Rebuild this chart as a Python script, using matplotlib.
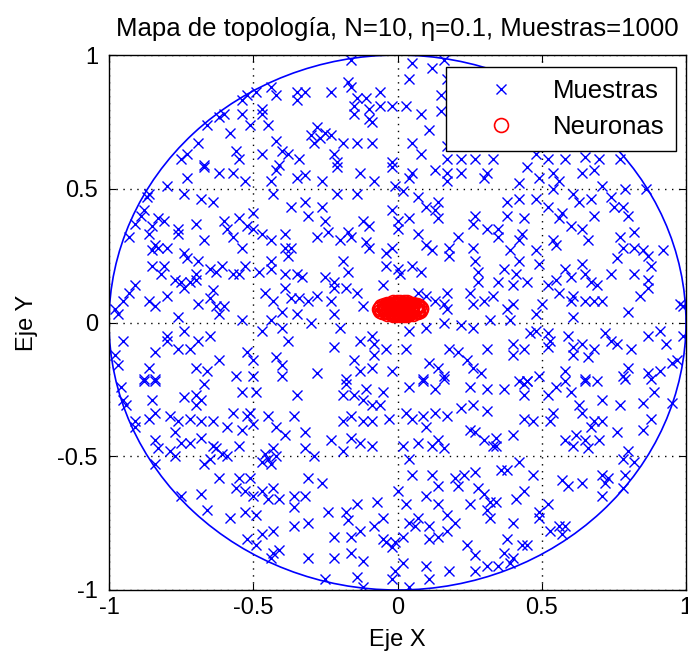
import matplotlib
matplotlib.use("Agg")
import matplotlib.pyplot as plt
from matplotlib.patches import Circle

plt.rcParams['font.family'] = ['Liberation Sans', 'DejaVu Sans']

# muestras (x, y), por zonas
muestras_x = [
    # zona -1..-0.33, 0.59..-0.21
    -0.67, -0.62, -0.57, -0.53, -0.73, -0.42, -0.44, -0.35, -0.80, -0.86,
    -0.87, -0.74, -0.68, -0.64, -0.43, -0.37, -0.88, -0.89, -0.83, -0.81,
    -0.55, -0.50, -0.60, -0.85, -0.76, -0.70, -0.91, -0.59, -0.52, -0.50,
    -0.47, -0.86, -0.93, -0.76, -0.57, -0.67, -0.39, -0.44, -0.84, -0.80,
    -0.83, -0.85, -0.54, -0.39, -0.37, -0.74, -0.73, -0.69, -0.38, -0.44,
    -0.85, -0.81, -0.61, -0.65, -0.63, -0.53, -0.48, -0.44, -0.55, -0.57,
    -0.39, -0.35, -0.82, -0.77, -0.75, -0.72, -0.70, -0.70, -0.74, -0.91,
    -0.93, -0.95, -0.64, -0.39, -0.46, -0.43, -0.37, -0.34, -0.86, -0.84,
    -0.80, -0.98, -0.97, -0.69, -0.65, -0.63, -0.60, -0.62, -0.40, -0.35,
    -0.76, -0.54, -0.44, -0.47, -0.40, -0.74, -0.80, -0.80, -0.76, -0.69,
    -0.65, -0.72, -0.95, -0.98, -0.84, -0.97, -0.86, -0.70, -0.66, -0.62,
    -0.52, -0.50, -0.50, -0.56, -0.42, -0.40, -0.38, -0.40, -0.88, -0.84,
    # zona -0.33..0.34, 0.59..-0.21
    -0.32, -0.26, -0.21, -0.13, -0.08, -0.02, 0.05, 0.04, 0.13, 0.17,
    0.17, 0.22, 0.30, 0.31, -0.01, 0.02, -0.21, -0.14, -0.32, -0.26,
    0.07, 0.10, 0.14, 0.13, -0.02, 0.00, 0.04, 0.14, 0.27, 0.26,
    0.31, -0.31, -0.25, -0.24, -0.28, -0.12, -0.10, -0.17, -0.20, -0.16,
    -0.11, -0.10, 0.00, 0.07, 0.10, 0.12, 0.21, 0.18, 0.18, 0.26,
    0.27, -0.02, -0.04, -0.19, -0.04, 0.00, 0.01, 0.05, 0.08, -0.17,
    -0.25, 0.28, 0.28, -0.33, -0.22, -0.05, -0.28, -0.22, -0.18, -0.14,
    -0.31, -0.23, -0.12, -0.22, 0.07, 0.10, 0.17, 0.16, 0.17, 0.13,
    0.25, 0.26, 0.30, 0.33, -0.30, -0.20, 0.04, 0.10, 0.16, 0.22,
    0.26, 0.32, -0.13, -0.09, -0.08, -0.22, -0.04, 0.03, -0.08, -0.15,
    -0.13, -0.09, -0.02, -0.28, -0.18, 0.11, 0.14, 0.16, 0.18, 0.21,
    0.24, 0.26, 0.29, 0.31, 0.09,
    # zona 0.34..1, 0.59..-0.21
    0.45, 0.49, 0.54, 0.56, 0.54, 0.42, 0.64, 0.68, 0.71, 0.79,
    0.86, 0.38, 0.42, 0.44, 0.48, 0.52, 0.61, 0.63, 0.67, 0.57,
    0.56, 0.68, 0.74, 0.75, 0.78, 0.80, 0.60, 0.64, 0.66, 0.82,
    0.38, 0.35, 0.35, 0.43, 0.42, 0.54, 0.55, 0.48, 0.77, 0.78,
    0.82, 0.85, 0.87, 0.92, 0.39, 0.42, 0.49, 0.64, 0.76, 0.74,
    0.88, 0.37, 0.41, 0.58, 0.60, 0.65, 0.55, 0.52, 0.45, 0.35,
    0.40, 0.67, 0.69, 0.82, 0.87, 0.87, 0.56, 0.61, 0.65, 0.68,
    0.71, 0.60, 0.50, 0.84, 0.40, 0.38, 0.39, 0.48, 0.61, 0.80,
    0.98, 0.99, 0.46, 0.48, 0.52, 0.53, 0.52, 0.40, 0.40, 0.44,
    0.59, 0.61, 0.61, 0.64, 0.66, 0.68, 0.72, 0.74, 0.76, 0.81,
    0.87, 0.91, 0.93, 0.99, 0.97, 0.95, 0.91, 0.87, 0.78, 0.80,
    0.58, 0.49, 0.65, 0.42, 0.45,
    # zona -1..-0.33, -0.21..-1
    -0.96, -0.88, -0.84, -0.67, -0.54, -0.49, -0.35, -0.95, -0.94, -0.85,
    -0.74, -0.70, -0.68, -0.70, -0.91, -0.91, -0.86, -0.84, -0.79, -0.76,
    -0.72, -0.68, -0.64, -0.57, -0.52, -0.51, -0.50, -0.59, -0.54, -0.45,
    -0.42, -0.39, -0.36, -0.77, -0.84, -0.83, -0.79, -0.77, -0.75, -0.72,
    -0.68, -0.63, -0.61, -0.59, -0.64, -0.55, -0.45, -0.46, -0.43, -0.42,
    -0.44, -0.47, -0.67, -0.65, -0.84, -0.62, -0.55, -0.51, -0.56, -0.53,
    -0.50, -0.47, -0.45, -0.43, -0.41, -0.36, -0.36, -0.75, -0.68, -0.66,
    -0.58, -0.53, -0.49, -0.36, -0.47, -0.43, -0.52, -0.49, -0.41, -0.43,
    -0.44,
    # zona -0.33..0.34, -0.21..-1
    -0.18, -0.11, -0.05, 0.04, 0.09, 0.16, 0.13, 0.25, 0.31, -0.19,
    -0.15, -0.12, -0.09, -0.06, 0.22, 0.26, 0.31, -0.19, -0.16, -0.12,
    -0.09, -0.03, 0.03, 0.05, 0.09, 0.13, 0.17, 0.10, 0.25, 0.27,
    0.30, 0.33, -0.23, -0.16, -0.13, -0.09, -0.19, -0.32, -0.32, -0.29,
    0.02, 0.07, 0.12, 0.14, 0.16, 0.04, -0.31, -0.26, 0.05, 0.12,
    0.14, 0.20, 0.23, 0.21, 0.27, 0.28, 0.30, 0.32, 0.00, 0.10,
    0.03, 0.14, 0.25, 0.31, 0.32, -0.32, -0.31, -0.14, -0.07, -0.24,
    -0.18, -0.17, -0.05, 0.07, 0.06, 0.04, 0.11, 0.17, 0.20, 0.17,
    0.11, 0.14, -0.22, -0.16, -0.13, -0.08, -0.05, -0.04, -0.01, 0.02,
    -0.02, -0.16, -0.12, -0.22, -0.31, 0.02, -0.01, -0.02, -0.14, -0.25,
    0.10, 0.11, 0.18, 0.27, 0.31, 0.27, 0.24, -0.12, 0.04,
    # zona 0.34..1, -0.21..-1
    0.37, 0.44, 0.44, 0.45, 0.55, 0.52, 0.58, 0.60, 0.65, 0.69,
    0.79, 0.88, 0.63, 0.64, 0.71, 0.77, 0.85, 0.89, 0.95, 0.44,
    0.47, 0.53, 0.54, 0.68, 0.71, 0.67, 0.88, 0.85, 0.34, 0.34,
    0.40, 0.62, 0.58, 0.61, 0.65, 0.66, 0.70, 0.76, 0.80, 0.78,
    0.82, 0.36, 0.38, 0.42, 0.47, 0.57, 0.59, 0.64, 0.71, 0.73,
    0.72, 0.71, 0.79, 0.78, 0.44, 0.41, 0.34, 0.52, 0.49, 0.49,
    0.40, 0.53, 0.56, 0.58, 0.57, 0.38, 0.43, 0.45, 0.37, 0.40,
    0.39, 0.35,
    # zona -1..-0.5, 1..0.59
    -0.62, -0.60, -0.66, -0.54, -0.54, -0.51, -0.58, -0.69, -0.73, -0.75,
    -0.67, -0.56, -0.55, -0.52,
    # zona -0.5..0, 1..0.59
    -0.16, -0.44, -0.42, -0.49, -0.35, -0.32, -0.35, -0.23, -0.17, -0.16,
    -0.14, -0.11, -0.06, -0.06, -0.15, -0.15, -0.10, -0.02, -0.10, -0.09,
    -0.47, -0.47, -0.45, -0.28, -0.30, -0.25, -0.23, -0.29, -0.27, -0.19,
    -0.14, -0.09, -0.42, -0.40, -0.47, -0.38, -0.34, -0.22, -0.21, -0.41,
    -0.02,
    # zona 0..1, 1..0.59
    0.05, 0.04, 0.12, 0.15, 0.03, 0.08, 0.11, 0.05, 0.17, 0.16,
    0.17, 0.15, 0.08, 0.17, 0.22, 0.27, 0.33, 0.48, 0.52, 0.58,
    0.65, 0.70, 0.77,
]

muestras_y = [
    0.58, 0.56, 0.56, 0.53, 0.54, 0.57, 0.53, 0.54, 0.51, 0.48,
    0.47, 0.48, 0.46, 0.45, 0.48, 0.43, 0.42, 0.40, 0.39, 0.38,
    0.39, 0.41, 0.38, 0.36, 0.35, 0.37, 0.37, 0.35, 0.36, 0.35,
    0.33, 0.33, 0.32, 0.33, 0.32, 0.31, 0.33, 0.31, 0.29, 0.28,
    0.28, 0.27, 0.28, 0.28, 0.28, 0.26, 0.24, 0.23, 0.25, 0.23,
    0.21, 0.21, 0.21, 0.20, 0.19, 0.21, 0.19, 0.20, 0.18, 0.18,
    0.18, 0.18, 0.18, 0.16, 0.15, 0.15, 0.16, 0.18, 0.13, 0.14,
    0.11, 0.08, 0.12, 0.13, 0.11, 0.08, 0.09, 0.09, 0.08, 0.06,
    0.10, 0.05, 0.03, 0.07, 0.09, 0.06, 0.06, 0.03, 0.04, 0.03,
    0.02, 0.01, 0.01, -0.03, -0.02, -0.03, -0.05, -0.07, -0.10, -0.07,
    -0.05, -0.10, -0.07, -0.12, -0.11, -0.16, -0.17, -0.17, -0.18, -0.14,
    -0.11, -0.14, -0.20, -0.20, -0.13, -0.16, -0.07, -0.20, -0.21, -0.21,
    #
    0.55, 0.53, 0.58, 0.56, 0.53, 0.58, 0.56, 0.54, 0.57, 0.56,
    0.53, 0.56, 0.54, 0.56, 0.51, 0.49, 0.48, 0.48, 0.45, 0.43,
    0.47, 0.43, 0.45, 0.42, 0.42, 0.38, 0.39, 0.39, 0.40, 0.37,
    0.35, 0.40, 0.38, 0.34, 0.32, 0.38, 0.36, 0.34, 0.31, 0.32,
    0.30, 0.28, 0.35, 0.33, 0.29, 0.27, 0.32, 0.28, 0.25, 0.28,
    0.23, 0.28, 0.26, 0.23, 0.21, 0.20, 0.18, 0.21, 0.19, 0.19,
    0.17, 0.19, 0.15, 0.17, 0.15, 0.14, 0.10, 0.13, 0.13, 0.11,
    0.08, 0.08, 0.06, 0.03, 0.11, 0.10, 0.11, 0.07, 0.05, 0.08,
    0.11, 0.07, 0.08, 0.10, 0.00, -0.02, -0.03, -0.02, 0.00, -0.01,
    -0.02, 0.01, -0.07, -0.05, -0.08, -0.09, -0.10, -0.10, -0.12, -0.14,
    -0.18, -0.17, -0.18, -0.19, -0.21, -0.15, -0.17, -0.20, -0.10, -0.11,
    -0.14, -0.17, -0.19, -0.10, -0.21,
    #
    0.58, 0.54, 0.56, 0.53, 0.50, 0.52, 0.56, 0.57, 0.51, 0.50,
    0.50, 0.45, 0.46, 0.39, 0.46, 0.43, 0.48, 0.45, 0.46, 0.41,
    0.39, 0.40, 0.47, 0.43, 0.43, 0.40, 0.36, 0.35, 0.31, 0.34,
    0.40, 0.35, 0.32, 0.33, 0.31, 0.31, 0.29, 0.27, 0.32, 0.28,
    0.28, 0.27, 0.25, 0.27, 0.27, 0.23, 0.22, 0.22, 0.24, 0.18,
    0.21, 0.20, 0.18, 0.20, 0.17, 0.18, 0.16, 0.14, 0.15, 0.15,
    0.14, 0.15, 0.14, 0.18, 0.16, 0.13, 0.11, 0.10, 0.08, 0.08,
    0.08, 0.08, 0.07, 0.10, 0.07, 0.05, 0.01, 0.03, 0.02, 0.04,
    0.07, 0.06, -0.04, -0.03, -0.04, -0.07, -0.09, -0.08, -0.12, -0.10,
    -0.05, -0.09, -0.12, -0.08, -0.13, -0.10, -0.04, -0.07, -0.08, -0.10,
    -0.05, -0.03, -0.08, -0.05, -0.14, -0.15, -0.18, -0.19, -0.20, -0.17,
    -0.18, -0.20, -0.21, -0.22, -0.22,
    #
    -0.24, -0.22, -0.22, -0.23, -0.26, -0.26, -0.27, -0.29, -0.31, -0.29,
    -0.28, -0.27, -0.29, -0.31, -0.37, -0.39, -0.36, -0.34, -0.35, -0.37,
    -0.36, -0.37, -0.37, -0.34, -0.35, -0.34, -0.38, -0.39, -0.40, -0.35,
    -0.39, -0.42, -0.35, -0.41, -0.44, -0.47, -0.48, -0.50, -0.45, -0.45,
    -0.43, -0.47, -0.49, -0.50, -0.46, -0.46, -0.51, -0.49, -0.47, -0.50,
    -0.53, -0.52, -0.53, -0.51, -0.53, -0.58, -0.58, -0.58, -0.62, -0.63,
    -0.65, -0.63, -0.66, -0.62, -0.66, -0.65, -0.69, -0.65, -0.64, -0.70,
    -0.73, -0.71, -0.72, -0.76, -0.79, -0.78, -0.81, -0.83, -0.85, -0.86,
    -0.88,
    #
    -0.23, -0.25, -0.26, -0.24, -0.22, -0.21, -0.25, -0.24, -0.25, -0.27,
    -0.27, -0.29, -0.31, -0.31, -0.32, -0.31, -0.33, -0.37, -0.35, -0.37,
    -0.37, -0.36, -0.34, -0.36, -0.35, -0.34, -0.35, -0.39, -0.40, -0.41,
    -0.44, -0.46, -0.44, -0.43, -0.45, -0.46, -0.48, -0.41, -0.47, -0.50,
    -0.46, -0.45, -0.46, -0.44, -0.47, -0.51, -0.58, -0.60, -0.57, -0.57,
    -0.61, -0.58, -0.57, -0.61, -0.56, -0.62, -0.64, -0.67, -0.63, -0.65,
    -0.68, -0.68, -0.68, -0.70, -0.73, -0.65, -0.75, -0.68, -0.67, -0.71,
    -0.71, -0.74, -0.73, -0.73, -0.76, -0.75, -0.76, -0.72, -0.75, -0.78,
    -0.81, -0.80, -0.80, -0.80, -0.78, -0.76, -0.81, -0.82, -0.82, -0.80,
    -0.84, -0.86, -0.89, -0.88, -0.88, -0.90, -0.93, -0.96, -0.95, -0.96,
    -0.91, -0.96, -0.93, -0.87, -0.91, -0.93, -0.83, -0.99, -0.99,
    #
    -0.25, -0.23, -0.27, -0.22, -0.24, -0.27, -0.22, -0.26, -0.22, -0.22,
    -0.21, -0.21, -0.31, -0.34, -0.29, -0.31, -0.30, -0.26, -0.30, -0.36,
    -0.37, -0.37, -0.34, -0.37, -0.37, -0.39, -0.36, -0.40, -0.43, -0.46,
    -0.42, -0.42, -0.44, -0.46, -0.44, -0.47, -0.44, -0.41, -0.48, -0.51,
    -0.52, -0.55, -0.55, -0.52, -0.57, -0.59, -0.61, -0.60, -0.57, -0.58,
    -0.60, -0.65, -0.57, -0.62, -0.63, -0.66, -0.67, -0.68, -0.71, -0.73,
    -0.75, -0.78, -0.76, -0.76, -0.79, -0.81, -0.83, -0.83, -0.86, -0.88,
    -0.90, -0.91,
    #
    0.77, 0.78, 0.74, 0.78, 0.83, 0.74, 0.71, 0.67, 0.63, 0.61,
    0.59, 0.64, 0.61, 0.85,
    #
    0.98, 0.88, 0.85, 0.86, 0.86, 0.86, 0.83, 0.86, 0.90, 0.88,
    0.84, 0.84, 0.86, 0.81, 0.81, 0.78, 0.80, 0.81, 0.76, 0.75,
    0.80, 0.78, 0.74, 0.73, 0.70, 0.71, 0.70, 0.67, 0.69, 0.67,
    0.67, 0.67, 0.68, 0.64, 0.63, 0.63, 0.61, 0.63, 0.60, 0.59,
    0.60,
    #
    0.97, 0.91, 0.95, 0.85, 0.81, 0.78, 0.72, 0.67, 0.66, 0.98,
    0.91, 0.79, 0.63, 0.61, 0.61, 0.61, 0.61, 0.63, 0.61, 0.61,
    0.62, 0.61, 0.61,
]

# neuronas: filas (y) y posiciones x en cada fila
neuronas_filas_y = [0.028, 0.033, 0.039, 0.044, 0.050, 0.055, 0.060, 0.066, 0.071, 0.076]
neuronas_filas_x = [
    [-0.016, -0.004, 0.009, 0.022, 0.034],
    [-0.036, -0.020, -0.004, 0.010, 0.024, 0.040, 0.054],
    [-0.052, -0.035, -0.018, -0.001, 0.016, 0.033, 0.050, 0.070],
    [-0.060, -0.042, -0.024, -0.006, 0.012, 0.030, 0.048, 0.066, 0.078],
    [-0.064, -0.046, -0.028, -0.010, 0.008, 0.026, 0.044, 0.062, 0.082],
    [-0.062, -0.044, -0.026, -0.008, 0.010, 0.028, 0.046, 0.064, 0.080],
    [-0.058, -0.040, -0.022, -0.004, 0.014, 0.032, 0.050, 0.068, 0.076],
    [-0.048, -0.031, -0.014, 0.003, 0.020, 0.037, 0.054, 0.068],
    [-0.035, -0.019, -0.003, 0.013, 0.029, 0.045, 0.054],
    [-0.016, -0.003, 0.010, 0.023, 0.034],
]
neuronas_x = [x for fila in neuronas_filas_x for x in fila]
neuronas_y = [y for y, fila in zip(neuronas_filas_y, neuronas_filas_x) for _ in fila]

ticks = [-1, -0.5, 0, 0.5, 1]
tick_labels = ['-1', '-0.5', '0', '0.5', '1']

fig = plt.figure(figsize=(6.88, 6.64), dpi=100)
ax = fig.add_axes([109 / 688, 74 / 664, 577 / 688, 535 / 664])

ax.plot(muestras_x, muestras_y, 'x', color='blue', markersize=7,
        markeredgewidth=1.0, label='Muestras')
ax.plot(neuronas_x, neuronas_y, 'o', markerfacecolor='none',
        markeredgecolor='red', markersize=10, markeredgewidth=1.2,
        label='Neuronas')
ax.add_patch(Circle((0, 0), 1, fill=False, edgecolor='blue', linewidth=1.2))

ax.set_xlim(-1, 1)
ax.set_ylim(-1, 1)
ax.set_xticks(ticks)
ax.set_xticklabels(tick_labels)
ax.set_yticks(ticks)
ax.set_yticklabels(tick_labels)
ax.tick_params(direction='in', top=True, right=True, length=5, labelsize=17)
ax.tick_params(axis='x', pad=5)
ax.tick_params(axis='y', pad=8)
ax.grid(True, color='black', linestyle=(0, (1, 4)), linewidth=1.0)
ax.set_axisbelow(True)
for s in ax.spines.values():
    s.set_linewidth(1.0)

ax.set_title('Mapa de topología, N=10, η=0.1, Muestras=1000', fontsize=18.5, pad=14)
ax.set_xlabel('Eje X', fontsize=17, labelpad=7)
ax.set_ylabel('Eje Y', fontsize=17, labelpad=14)

leg = ax.legend(loc='upper right', bbox_to_anchor=(0.9827, 0.9776),
                borderaxespad=0, fontsize=18.5, fancybox=False, framealpha=1,
                edgecolor='black', handlelength=3.44, handletextpad=0.28,
                labelspacing=0.5, borderpad=0.45)
leg.get_frame().set_linewidth(1.0)

fig.savefig('out.png', dpi=100)
